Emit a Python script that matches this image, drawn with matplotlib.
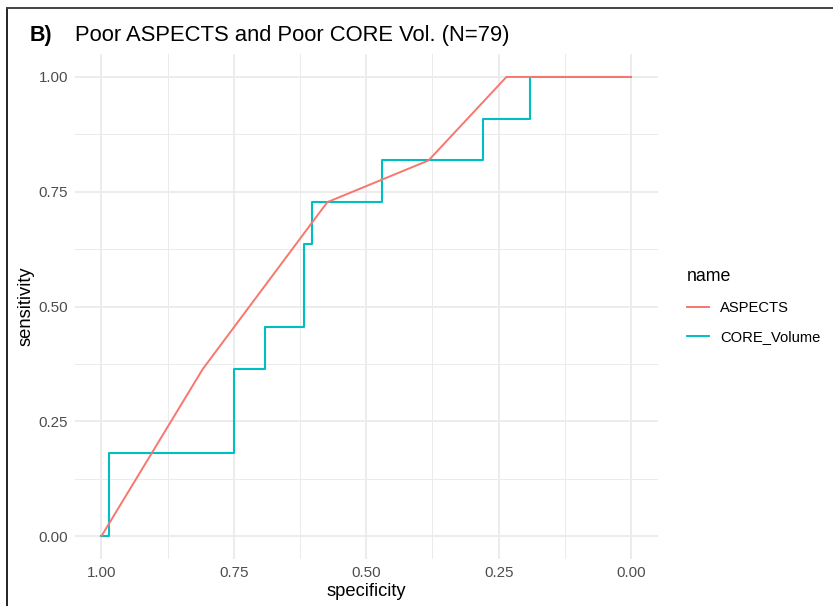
import matplotlib
matplotlib.use("Agg")
import matplotlib.pyplot as plt
from matplotlib.lines import Line2D

# Data
aspects_spec = [1.0, 55/68, 39/68, 26/68, 16/68, 0.0]
aspects_sens = [0.0, 4/11, 8/11, 9/11, 1.0, 1.0]

core_spec = [1.0, 67/68, 67/68, 51/68, 51/68, 47/68, 47/68, 42/68, 42/68,
             41/68, 41/68, 32/68, 32/68, 19/68, 19/68, 13/68, 13/68, 0.0]
core_sens = [0.0, 0.0, 2/11, 2/11, 4/11, 4/11, 5/11, 5/11, 7/11,
             7/11, 8/11, 8/11, 9/11, 9/11, 10/11, 10/11, 1.0, 1.0]

series_names = ["ASPECTS", "CORE_Volume"]
colors = ["#F8766D", "#00BFC4"]
ticks = [1.00, 0.75, 0.50, 0.25, 0.00]
tick_labels = ["1.00", "0.75", "0.50", "0.25", "0.00"]
yticks = [0.00, 0.25, 0.50, 0.75, 1.00]
ytick_labels = ["0.00", "0.25", "0.50", "0.75", "1.00"]

plt.rcParams['font.family'] = ['Liberation Sans', 'DejaVu Sans']

W, H = 833, 606
fig = plt.figure(figsize=(W/100, H/100), dpi=100)
ax = fig.add_axes([75/W, 1-559/H, (657.5-75)/W, (559-54)/H])

ax.set_xlim(1.05, -0.05)
ax.set_ylim(-0.05, 1.05)

# grid
for v in [0.875, 0.625, 0.375, 0.125]:
    ax.axvline(v, color="#EBEBEB", lw=0.7, zorder=0)
    ax.axhline(v, color="#EBEBEB", lw=0.7, zorder=0)
for v in ticks:
    ax.axvline(v, color="#EBEBEB", lw=1.3, zorder=0)
    ax.axhline(v, color="#EBEBEB", lw=1.3, zorder=0)

ax.plot(aspects_spec, aspects_sens, color=colors[0], lw=1.4, zorder=3)
ax.plot(core_spec, core_sens, color=colors[1], lw=1.5, zorder=2)

for s in ax.spines.values():
    s.set_visible(False)
ax.set_xticks(ticks)
ax.set_xticklabels(tick_labels)
ax.set_yticks(yticks)
ax.set_yticklabels(ytick_labels)
ax.tick_params(length=0, labelsize=10.9, labelcolor="#4D4D4D", pad=5)
ax.set_xlabel("specificity", fontsize=13.2, labelpad=2)
ax.set_ylabel("sensitivity", fontsize=13.2, labelpad=3)

# legend
handles = [Line2D([0], [0], color=c, lw=1.4) for c in colors]
leg = fig.legend(handles, series_names, title="name", loc="upper left",
                 bbox_to_anchor=(674/W, 1-255/H), frameon=False,
                 fontsize=10.6, title_fontsize=12.8, handlelength=1.5,
                 handletextpad=0.75, labelspacing=1.05, alignment="left")

# title
fig.text(30/W, 1-35/H, "B)", fontsize=15.5, fontweight="bold", va="center", ha="left")
fig.text(75/W, 1-35/H, "Poor ASPECTS and Poor CORE Vol. (N=79)", fontsize=15.8,
         va="center", ha="left")

# screenshot frame (left and top)
fig.add_artist(Line2D([7/W, 7/W], [0, 1-7.5/H], color="#222222", lw=1.4))
fig.add_artist(Line2D([7/W, 1], [1-7.5/H, 1-7.5/H], color="#444444", lw=1.4))

fig.savefig("out.png", dpi=100)
